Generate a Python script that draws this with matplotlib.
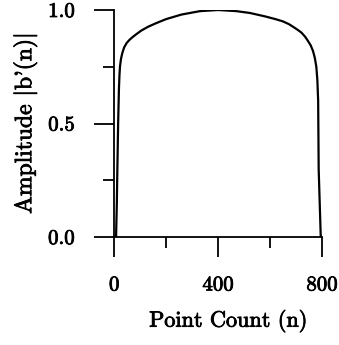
import matplotlib
matplotlib.use("Agg")
import matplotlib.pyplot as plt
import matplotlib.patheffects as pe
from matplotlib.ticker import MultipleLocator

plt.rcParams["font.family"] = ["cmr10", "DejaVu Serif"]
plt.rcParams["axes.formatter.use_mathtext"] = True
plt.rcParams["mathtext.fontset"] = "cm"

# amplitude envelope
point_count = [0, 7, 10, 12, 15, 18, 20, 22, 26, 31, 38, 48, 60, 72, 88, 105,
               130, 157, 200, 259, 330, 400, 470, 522, 580, 620, 649, 672, 690,
               707, 721, 735, 745, 756, 765, 772, 778, 782, 785, 787, 791, 795,
               800]
amplitude = [0.0, 0.0, 0.15, 0.30, 0.50, 0.65, 0.71, 0.75, 0.785, 0.81, 0.835,
             0.855, 0.87, 0.882, 0.896, 0.91, 0.926, 0.94, 0.96, 0.98, 0.995,
             1.0, 0.995, 0.987, 0.972, 0.96, 0.95, 0.938, 0.925, 0.912, 0.90,
             0.882, 0.865, 0.845, 0.82, 0.79, 0.75, 0.69, 0.60, 0.30, 0.15,
             0.0, 0.0]

x_ticks = [0, 400, 800]
y_ticks = [0.0, 0.5, 1.0]

ink = [pe.withStroke(linewidth=0.6, foreground="black")]

fig = plt.figure(figsize=(3.39, 3.45), dpi=100)
ax = fig.add_axes([0.337, 0.313, 0.613, 0.658])
ax.plot(point_count, amplitude, color="black", lw=1.6,
        solid_capstyle="round", solid_joinstyle="round")

ax.set_xlim(0, 800)
ax.set_ylim(0, 1.0)
ax.set_xticks(x_ticks)
ax.set_xticklabels([str(v) for v in x_ticks])
ax.set_yticks(y_ticks)
ax.set_yticklabels([f"{v:.1f}" for v in y_ticks])
ax.xaxis.set_minor_locator(MultipleLocator(200))
ax.yaxis.set_minor_locator(MultipleLocator(0.25))

for side in ["top", "right"]:
    ax.spines[side].set_visible(False)
for side in ["left", "bottom"]:
    ax.spines[side].set_linewidth(1.3)

ax.tick_params(which="major", direction="out", length=14.4, width=1.3,
               labelsize=15, pad=14)
ax.tick_params(which="minor", direction="out", length=8, width=1.3)
for lab in ax.get_xticklabels() + ax.get_yticklabels():
    lab.set_path_effects(ink)

ax.set_xlabel("Point Count (n)", fontsize=16, labelpad=11, path_effects=ink)
ax.xaxis.label.set_x(0.548)
ax.set_ylabel("Amplitude $|$b'(n)$|$", fontsize=17, labelpad=6,
              path_effects=ink)

fig.savefig("out.png", dpi=100)
